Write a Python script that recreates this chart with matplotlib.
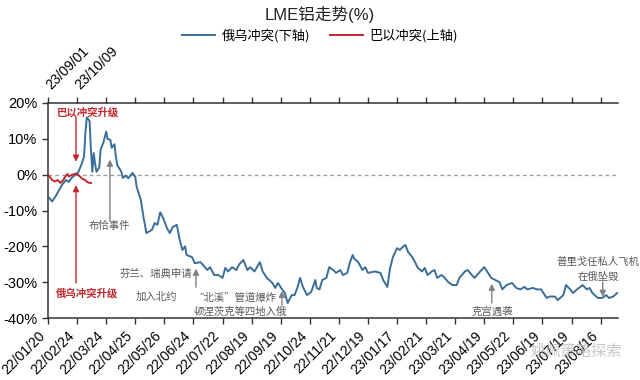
import matplotlib
matplotlib.use('Agg')
import matplotlib.pyplot as plt
import matplotlib.transforms as mtransforms
from matplotlib.lines import Line2D

# trading-day index on the lower axis (Russia-Ukraine), LME aluminium change in %
blue_day = [1, 3, 6, 8, 10, 13, 15, 17, 20, 22, 24, 26, 27, 28, 30, 31, 32, 33, 34, 35,
            37, 38, 40, 42, 43, 45, 46, 48, 49, 50, 53, 54, 56, 58, 61, 63, 64, 67, 69, 70,
            71, 75, 77, 79, 81, 83, 86, 88, 90, 93, 95, 97, 99, 100, 104, 106, 110, 112, 115, 117,
            120, 123, 126, 128, 130, 133, 136, 138, 141, 144, 146, 149, 153, 155, 158, 162, 164, 166, 169, 171,
            173, 176, 178, 180, 182, 184, 187, 190, 193, 194, 196, 198, 201, 203, 206, 208, 211, 213, 216, 218,
            220, 221, 224, 227, 229, 231, 236, 240, 242, 245, 247, 249, 252, 254, 256, 258, 260, 263, 265, 267,
            270, 272, 274, 277, 279, 281, 284, 286, 289, 292, 295, 297, 301, 303, 306, 308, 312, 315, 317, 320,
            323, 326, 328, 331, 335, 338, 341, 344, 346, 350, 353, 356, 360, 362, 366, 368, 372, 374, 377, 379,
            382, 386, 389, 391, 393, 397, 400, 403, 405, 408, 411]
blue_val = [-6.5, -7.5, -5.7, -4.3, -2.9, -1.5, -2.0, -0.9, 0.0, 0.8, 2.7, 5.0, 11.6, 16.0, 15.0, 7.0, 0.8, 6.0, 3.0, 0.8,
            2.0, 7.0, 9.0, 12.0, 10.0, 9.7, 7.5, 8.5, 5.0, 2.7, 0.8, -0.9, -0.3, -1.0, 0.5, -0.6, -3.4, -7.0, -12.0, -14.0,
            -16.3, -15.4, -13.5, -14.0, -10.5, -12.0, -15.0, -16.3, -14.6, -14.0, -18.0, -21.0, -20.0, -22.4, -23.0, -24.7, -24.4, -25.2, -26.6, -25.8,
            -28.0, -28.0, -28.8, -26.0, -27.0, -25.8, -26.6, -25.0, -23.8, -26.6, -25.8, -27.0, -24.4, -27.0, -28.8, -30.2, -31.6, -30.2, -32.0, -33.0,
            -35.8, -33.6, -33.6, -31.6, -28.8, -31.3, -33.6, -32.7, -29.4, -31.6, -32.0, -29.4, -28.8, -25.8, -26.6, -27.4, -26.6, -28.0, -27.4, -24.4,
            -22.4, -23.4, -24.4, -26.6, -25.8, -27.4, -27.0, -27.4, -29.4, -31.3, -26.0, -23.0, -20.5, -21.0, -20.2, -19.6, -21.6, -23.0, -24.4, -26.0,
            -27.0, -26.0, -28.0, -27.0, -26.6, -28.8, -28.0, -28.6, -30.0, -30.8, -30.8, -28.8, -27.0, -26.6, -28.0, -28.8, -27.0, -25.8, -27.0, -28.8,
            -29.4, -30.0, -32.0, -30.8, -30.2, -31.6, -32.0, -31.3, -32.0, -31.6, -32.0, -32.0, -34.4, -34.0, -34.0, -35.0, -33.6, -30.8, -32.0, -33.0,
            -32.0, -30.8, -32.0, -31.6, -33.0, -34.4, -34.4, -33.6, -34.4, -34.0, -33.0]

# trading-day index on the upper axis (Israel-Palestine)
red_day = [0, 3, 5, 7, 9, 11, 12, 14, 15, 17, 20, 21, 23, 25, 27, 28, 30, 31]
red_val = [0.0, -1.5, -1.9, -1.5, -2.3, -1.5, -0.8, 0.2, -0.5, -0.1, 0.3, 0.2, -0.5, -1.2, -1.5, -2.0, -2.3, -2.3]

bottom_labels = ['22/01/20', '22/02/24', '22/03/24', '22/04/25', '22/05/26', '22/06/24',
                 '22/07/22', '22/08/19', '22/09/19', '22/10/24', '22/11/21', '22/12/19',
                 '23/01/17', '23/02/21', '23/03/21', '23/04/19', '23/05/22', '23/06/19',
                 '23/07/19', '23/08/16']
top_labels = ['', '23/09/01', '23/10/09'] + [''] * 17
tick_step = 21

blue = '#3B6E98'
red = '#C0282D'
grey_txt = '#595959'
grey_arrow = '#808080'
cjk = ['Noto Sans CJK SC']

plt.rcParams['font.family'] = ['Liberation Sans', 'Noto Sans CJK SC']

fig = plt.figure(figsize=(6.4, 3.8), dpi=100)
ax = fig.add_axes([0.075, 0.163, 0.8906, 0.566])
ticks = [i * tick_step for i in range(len(bottom_labels))]
xmax = 411.5

ax.plot(blue_day, blue_val, color=blue, lw=1.4, zorder=3)
ax.axhline(0, color='#9a9a9a', lw=0.9, ls=(0, (3, 2.5)), zorder=1)
ax.set_xlim(0, xmax)
ax.set_ylim(-40, 20)
ax.set_yticks(range(-40, 21, 10))
ax.set_yticklabels([f'{v}%' for v in range(-40, 21, 10)], fontsize=10.5)
ax.set_xticks(ticks)
ax.set_xticklabels(bottom_labels, rotation=45, ha='right', fontsize=10)
ax.tick_params(axis='both', direction='out', length=4, width=1, color='#333333')
for s in ['left', 'bottom']:
    ax.spines[s].set_color('#333333')
    ax.spines[s].set_linewidth(1.1)
ax.spines['right'].set_visible(False)
ax.spines['top'].set_visible(False)

ax2 = ax.twiny()
ax2.plot(red_day, red_val, color=red, lw=1.4, zorder=3)
ax2.set_xlim(0, xmax)
ax2.set_xticks(ticks)
ax2.set_xticklabels(top_labels, rotation=45, fontsize=10)
ax2.tick_params(axis='x', direction='out', length=4, width=1, color='#333333')
shift = mtransforms.ScaledTranslation(-10 / 100, 0, fig.dpi_scale_trans)
for lab in ax2.get_xticklabels():
    lab.set_transform(lab.get_transform() + shift)
ax2.spines['top'].set_color('#333333')
ax2.spines['top'].set_linewidth(1.1)
for s in ['left', 'right', 'bottom']:
    ax2.spines[s].set_visible(False)

# annotations
def arrow(x, y0, y1, color):
    ax.annotate('', xy=(x, y1), xytext=(x, y0),
                arrowprops=dict(arrowstyle='-|>', color=color, lw=1.0, mutation_scale=9,
                                shrinkA=0, shrinkB=0), zorder=4)

def note(x, y, s, color=grey_txt, bold=False):
    ax.text(x, y, s, ha='center', va='center', fontsize=7.5, color=color,
            family=cjk, fontweight='bold' if bold else 'normal', zorder=5)

note(29, 17.5, '巴以冲突升级', red, True)
arrow(20.2, 16.0, 3.6, red)
note(28, -33.0, '俄乌冲突升级', red, True)
arrow(20.2, -30.2, -2.9, red)
note(44.7, -14.3, '布恰事件')
arrow(44.7, -12.8, 4.2, grey_arrow)
note(78, -27.6, '芬兰、瑞典申请')
note(78, -34.0, '加入北约')
arrow(106.8, -31.4, -26.2, grey_arrow)
note(135, -34.4, '“北溪”管道爆炸')
note(138.5, -38.3, '顿涅茨克等四地入俄')
arrow(168.9, -36.4, -32.4, grey_arrow)
note(320.4, -38.3, '克宫遇袭')
arrow(320.4, -35.8, -30.4, grey_arrow)
note(397, -24.4, '普里戈任私人飞机')
note(397, -28.6, '在俄坠毁')
arrow(400.5, -30.0, -34.1, grey_arrow)

fig.text(0.5, 0.962, 'LME铝走势(%)', ha='center', va='center', fontsize=12, color='#222222')
handles = [Line2D([], [], color=blue, lw=1.4), Line2D([], [], color=red, lw=1.4)]
fig.legend(handles, ['俄乌冲突(下轴)', '巴以冲突(上轴)'], loc='center', bbox_to_anchor=(0.5, 0.905),
           ncol=2, frameon=False, handlelength=2.5, columnspacing=1.5, handletextpad=0.5,
           prop={'family': cjk, 'size': 9.5})

fig.text(0.9, 0.075, '姚佩策略探索', ha='center', va='center', fontsize=11,
         family=cjk, color='#b0b0b0', alpha=0.7)

fig.savefig('out.png', dpi=100)
